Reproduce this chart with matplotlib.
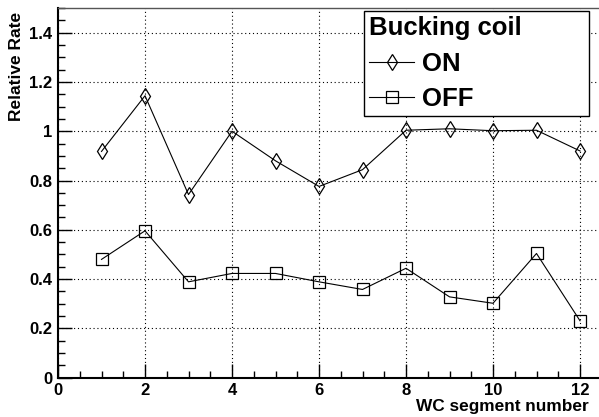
import numpy as np
import matplotlib.pyplot as plt
from matplotlib.ticker import MultipleLocator

plt.rcParams['font.family'] = ['Liberation Sans', 'DejaVu Sans']
plt.rcParams['font.weight'] = 'bold'

# relative rates per WC segment
segment = [1, 2, 3, 4, 5, 6, 7, 8, 9, 10, 11, 12]
rate_on = [0.918, 1.144, 0.743, 1.0, 0.880, 0.776, 0.844, 1.004, 1.010, 1.002, 1.004, 0.920]
rate_off = [0.480, 0.596, 0.389, 0.423, 0.423, 0.389, 0.358, 0.444, 0.328, 0.302, 0.504, 0.231]

W, H = 599, 417
fig = plt.figure(figsize=(W / 100, H / 100), dpi=100)
x0, x1 = 58, 601.75
y0, y1 = 377.7, 8
ax = fig.add_axes([x0 / W, 1 - y0 / H, (x1 - x0) / W, (y0 - y1) / H])

ax.plot(segment, rate_on, color='black', lw=0.8, marker='d', ms=8,
        mfc='none', mec='black', mew=0.9, label='ON')
ax.plot(segment, rate_off, color='black', lw=0.8, marker='s', ms=8.5,
        mfc='none', mec='black', mew=0.9, label='OFF')

ax.set_xlim(0, 12.5)
ax.set_ylim(0, 1.5)
ax.xaxis.set_major_locator(MultipleLocator(2))
ax.xaxis.set_minor_locator(MultipleLocator(0.5))
ax.yaxis.set_major_locator(MultipleLocator(0.2))
ax.yaxis.set_minor_locator(MultipleLocator(0.05))
ax.yaxis.set_major_formatter(plt.FuncFormatter(lambda v, p: '%g' % round(v, 2)))
ax.tick_params(which='both', direction='in', top=False, right=False,
               labelsize=12, pad=4)
ax.tick_params(which='major', length=10, width=1)
ax.tick_params(which='minor', length=5, width=1)
for t in ax.get_xticklabels() + ax.get_yticklabels():
    t.set_fontweight('bold')
ax.grid(True, which='major', color='black', ls=(0, (1, 2.5)), lw=0.8)

for s in ['left', 'bottom']:
    ax.spines[s].set_linewidth(1.5)
ax.spines['top'].set_linewidth(1.0)
ax.spines['top'].set_color('#555555')

fig.text(17 / W, 1 - 12 / H, 'Relative Rate', rotation=90, ha='center',
         va='top', fontsize=12.5, fontweight='bold')
fig.text(589 / W, 1 - 407 / H, 'WC segment number', ha='right',
         va='center', fontsize=12.4, fontweight='bold')

# fixed-size legend box in the upper right
lx0, lx1, ly0, ly1 = 364, 589, 11, 115
leg = ax.legend(title='Bucking coil', loc='upper left',
                bbox_to_anchor=(lx0 / W, 1 - ly1 / H, (lx1 - lx0) / W, (ly1 - ly0) / H),
                bbox_transform=fig.transFigure, mode='expand', fancybox=False,
                edgecolor='black', framealpha=1, borderaxespad=0,
                fontsize=18.5, title_fontsize=18.5, alignment='left',
                handlelength=1.75, handletextpad=0.3, labelspacing=0.45,
                borderpad=0.2)
leg.get_frame().set_linewidth(1.0)
leg.get_title().set_fontweight('bold')
for t in leg.get_texts():
    t.set_fontweight('bold')

fig.savefig('out.png', dpi=100)
